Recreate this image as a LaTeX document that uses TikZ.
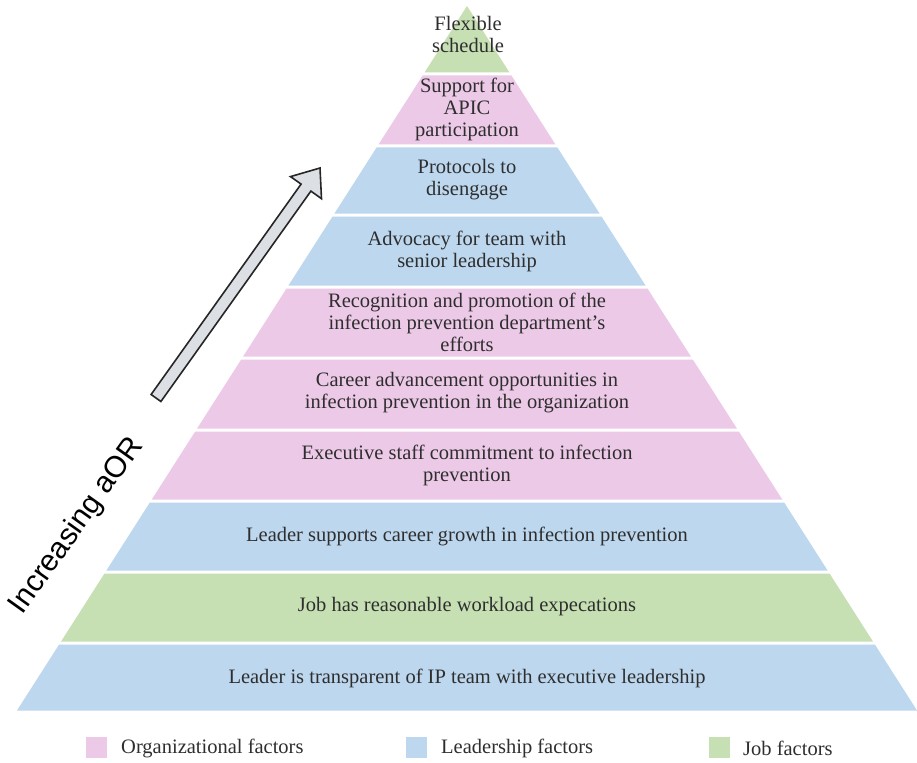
\documentclass[tikz,border=0pt]{standalone}
\usepackage{fontspec}
\setmainfont{Liberation Serif}
\newfontfamily\labelsans{Liberation Sans}
\definecolor{pinkf}{HTML}{EDC9E8}
\definecolor{bluef}{HTML}{BDD7EE}
\definecolor{greenf}{HTML}{C6E0B4}
\definecolor{txt}{HTML}{2E2E2E}
\definecolor{arrowfill}{HTML}{DCE0E4}
\begin{document}
\begin{tikzpicture}[x=1pt,y=-1pt,
  lbl/.style={align=center,text=txt,inner sep=0pt,font=\fontsize{20.5}{22}\selectfont},
  keytext/.style={anchor=west,text=txt,inner sep=0pt,font=\fontsize{20.5}{22}\selectfont},
  keybox/.style={minimum size=21pt,inner sep=0pt,draw=none},
  arrowbox/.style={fill=arrowfill,draw=black!85,line width=1.6pt,line join=miter}]
\useasboundingbox (0,0) rectangle (917,762);
\fill[white] (0,0) rectangle (917,762);
% bands: top, bottom, colour
\foreach \t/\b/\c in {6/74/greenf,74/146/pinkf,146/215/bluef,215/287/bluef,287/358/pinkf,358/430/pinkf,430/501/pinkf,501/572/bluef,572/643/greenf,643/712/bluef}{
  \pgfmathsetmacro{\tt}{\t==6 ? 6 : \t+1.5}
  \pgfmathsetmacro{\bb}{\b-1.5}
  \pgfmathsetmacro{\xlt}{467-0.6388*(\tt-6)}
  \pgfmathsetmacro{\xrt}{467+0.6388*(\tt-6)}
  \pgfmathsetmacro{\xlb}{467-0.6388*(\bb-6)}
  \pgfmathsetmacro{\xrb}{467+0.6388*(\bb-6)}
  \fill[\c] (\xlt,\tt) -- (\xrt,\tt) -- (\xrb,\bb) -- (\xlb,\bb) -- cycle;
}
\node[lbl] (f1) at (468,34) {Flexible\\schedule};
\node[lbl] (f2) at (467,109) {Support for\\APIC\\participation};
\node[lbl] (f3) at (467,180) {Protocols to\\disengage};
\node[lbl] (f4) at (467,251) {Advocacy for team with\\senior leadership};
\node[lbl] (f5) at (467,322) {Recognition and promotion of the\\infection prevention department's\\efforts};
\node[lbl] (f6) at (467,393) {Career advancement opportunities in\\infection prevention in the organization};
\node[lbl] (f7) at (467,465) {Executive staff commitment to infection\\prevention};
\node[lbl] (f8) at (467,536) {Leader supports career growth in infection prevention};
\node[lbl] (f9) at (467,607) {Job has reasonable workload expecations};
\node[lbl] (f10) at (467,678) {Leader is transparent of IP team with executive leadership};
% arrow
\draw[arrowbox] (151.1,394.5) -- (301.1,184.1) -- (290.5,176.6) -- (320,168) -- (321.5,198.7) -- (310.9,191.1) -- (160.9,401.5) -- cycle;
\node[rotate=54.5,text=black,inner sep=0pt,font=\labelsans\fontsize{30}{32}\selectfont] (incr) at (77,526) {Increasing aOR};
% legend
\node[keybox,fill=pinkf] (k1) at (96.5,747.5) {};
\node[keytext] (t1) at (121,748) {Organizational factors};
\node[keybox,fill=bluef] (k2) at (416.5,747.5) {};
\node[keytext] (t2) at (441,748) {Leadership factors};
\node[keybox,fill=greenf] (k3) at (719,747.5) {};
\node[keytext] (t3) at (743,748) {Job factors};
\end{tikzpicture}
\end{document}
